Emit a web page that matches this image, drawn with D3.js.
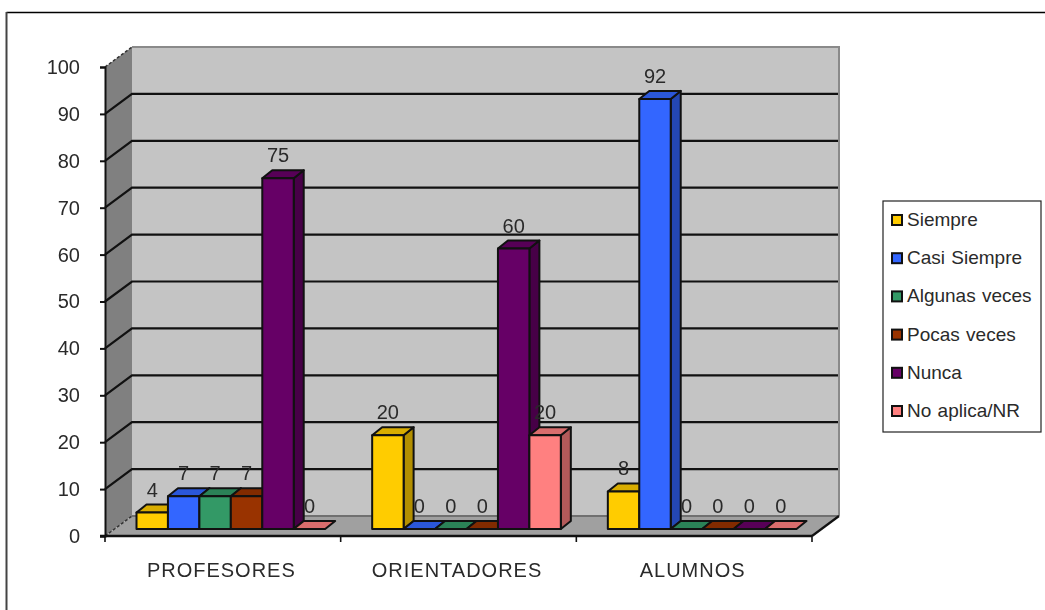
<!DOCTYPE html>
<html><head><meta charset="utf-8">
<script src="https://cdn.jsdelivr.net/npm/d3@7/dist/d3.min.js"></script>
<style>html,body{margin:0;padding:0;background:#fff}svg{display:block;filter:blur(.4px)}text{font-family:"Liberation Sans",Arial,sans-serif;fill:#2a2a2a}</style>
</head><body><svg id="c" width="1045" height="610"></svg>
<script>
const categories=["PROFESORES","ORIENTADORES","ALUMNOS"];
const seriesNames=["Siempre","Casi Siempre","Algunas veces","Pocas veces","Nunca","No aplica/NR"];
const siempre=[3.5,20,8];
const casiSiempre=[7,0,91.7];
const algunasVeces=[7,0,0];
const pocasVeces=[7,0,0];
const nunca=[74.8,59.8,0];
const noAplica=[0,20,0];
const seriesValues=[siempre,casiSiempre,algunasVeces,pocasVeces,nunca,noAplica];
const colors=["#FFCC00","#3366FF","#339966","#993300","#660066","#FF8080"];
const yTicks=[0,10,20,30,40,50,60,70,80,90,100];

const svg=d3.select("#c");
const y=d3.scaleLinear().domain([0,100]).range([536,67]);
const x0=d3.scaleBand().domain(categories).range([105,812]);
const depth={x:27,y:-20}, bar={x:8,y:-7}, cap={x:10,y:-8};
const gap=23.5;
const x1=d3.scaleBand().domain(d3.range(seriesNames.length)).range([0,x0.bandwidth()-2*gap]);
const fmt=d3.format(".0f");
const shade=(c,k)=>{const r=d3.rgb(c);return d3.rgb(r.r*k,r.g*k,r.b*k).formatHex();};
const pts=a=>a.map(p=>p.join(",")).join(" ");

// frame
svg.append("path").attr("d","M1045,12.5H6.5").attr("fill","none").attr("stroke","#000").attr("stroke-width",1.5);
svg.append("path").attr("d","M6.5,12V610").attr("fill","none").attr("stroke","#444").attr("stroke-width",2);

// walls
const xL=x0.range()[0], xR=x0.range()[1], yB=y(0), yT=y(100);
svg.append("polygon").attr("points",pts([[xL+depth.x,yT+depth.y],[xR+depth.x,yT+depth.y],[xR+depth.x,yB+depth.y],[xL+depth.x,yB+depth.y]])).attr("fill","#c4c4c4");
svg.append("polygon").attr("points",pts([[xL,yT],[xL+depth.x,yT+depth.y],[xL+depth.x,yB+depth.y],[xL,yB]])).attr("fill","#808080");
svg.append("polygon").attr("points",pts([[xL,yB],[xR,yB],[xR+depth.x,yB+depth.y],[xL+depth.x,yB+depth.y]])).attr("fill","#a0a0a0");
svg.append("path").attr("d",`M${xL+depth.x},${yT+depth.y}H${xR+depth.x}V${yB+depth.y}`).attr("fill","none").attr("stroke","#8a8a8a").attr("stroke-width",2);
svg.append("path").attr("d",`M${xL+depth.x},${yB+depth.y}H${xR+depth.x}`).attr("fill","none").attr("stroke","#707070").attr("stroke-width",2);

// gridlines
yTicks.filter(t=>t>0&&t<100).forEach(t=>{
  svg.append("path").attr("d",`M${xL},${y(t)}L${xL+depth.x},${y(t)+depth.y}H${xR+depth.x-1}`).attr("fill","none").attr("stroke","#111").attr("stroke-width",2.2);
});
[0,100].forEach(t=>svg.append("line").attr("x1",xL).attr("y1",y(t)).attr("x2",xL+depth.x).attr("y2",y(t)+depth.y).attr("stroke","#333").attr("stroke-width",1.5).attr("stroke-dasharray","3,2"));
svg.append("line").attr("x1",xR).attr("y1",yB).attr("x2",xR+depth.x).attr("y2",yB+depth.y).attr("stroke","#111").attr("stroke-width",2.2);

// bars
categories.forEach((cat,ci)=>{
  seriesValues.forEach((vals,si)=>{
    const v=vals[ci];
    const l=x0(cat)+gap+bar.x+x1(si), w=x1.bandwidth(), b=y(0)+bar.y, t=y(v)+bar.y;
    const g=svg.append("g").attr("stroke","#111").attr("stroke-width",2).attr("stroke-linejoin","round");
    if(v>0){
      g.append("polygon").attr("points",pts([[l+w,t],[l+w+cap.x,t+cap.y],[l+w+cap.x,b+cap.y],[l+w,b]])).attr("fill",shade(colors[si],.7));
    }
    g.append("polygon").attr("points",pts([[l,t],[l+cap.x,t+cap.y],[l+w+cap.x,t+cap.y],[l+w,t]])).attr("fill",shade(colors[si],.85));
    if(v>0) g.append("rect").attr("x",l).attr("y",t).attr("width",w).attr("height",b-t).attr("fill",colors[si]);
  });
});
// value labels
categories.forEach(cat=>{
  seriesValues.forEach((vals,si)=>{
    const v=vals[categories.indexOf(cat)];
    svg.append("text").attr("x",x0(cat)+gap+bar.x+x1(si)+x1.bandwidth()/2).attr("y",y(v)+bar.y-16)
      .attr("text-anchor","middle").attr("font-size",20).text(fmt(v));
  });
});

// axes
const ya=svg.append("g").attr("transform",`translate(${xL},0)`).call(d3.axisLeft(y).tickValues(yTicks).tickSize(5).tickPadding(20));
ya.selectAll("line,path").attr("stroke","#111").attr("stroke-width",2);
ya.selectAll("text").attr("font-size",20).attr("font-family",null).style("fill","#2a2a2a");
const xa=svg.append("g").attr("transform",`translate(0,${yB})`).call(d3.axisBottom(x0).tickSize(0).tickPadding(0));
xa.select("path").remove();
xa.selectAll("text").attr("x",-1.5).attr("y",41).attr("font-size",20).attr("dy",0).attr("letter-spacing",1).style("fill","#2a2a2a");
x0.domain().concat([null]).forEach((c,i)=>{
  const px=xL+i*x0.step();
  svg.append("line").attr("x1",px).attr("x2",px).attr("y1",yB).attr("y2",yB+6).attr("stroke","#111").attr("stroke-width",1.6);
});
svg.append("line").attr("x1",xL-5).attr("x2",xR).attr("y1",yB).attr("y2",yB).attr("stroke","#111").attr("stroke-width",2.4);

// legend
const lg=svg.append("g");
lg.append("rect").attr("x",883).attr("y",201).attr("width",158).attr("height",231).attr("fill","#fff").attr("stroke","#222").attr("stroke-width",1.2);
const ly=d3.scalePoint().domain(seriesNames).range([220,411]);
seriesNames.forEach((n,i)=>{
  lg.append("rect").attr("x",892).attr("y",ly(n)-5).attr("width",10).attr("height",10).attr("fill",colors[i]).attr("stroke","#111").attr("stroke-width",2);
  lg.append("text").attr("x",907).attr("y",ly(n)+6).attr("font-size",19).attr("word-spacing",1).text(n);
});
</script></body></html>
